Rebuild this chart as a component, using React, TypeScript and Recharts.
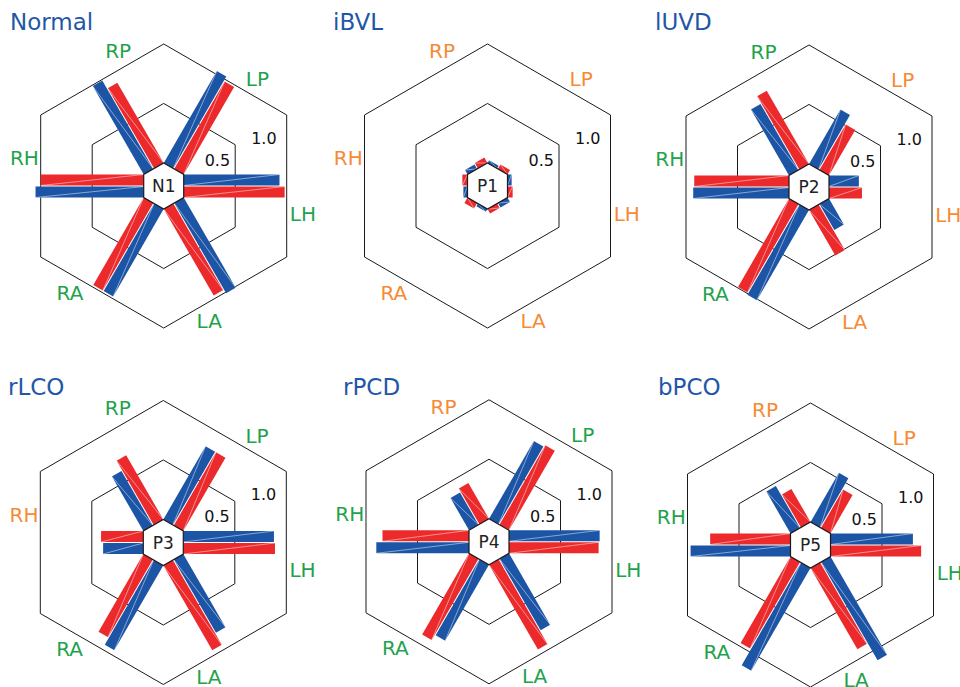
import { PolarAngleAxis, PolarRadiusAxis, Radar, RadarChart } from 'recharts'

// axis order runs clockwise, starting at the upper-left spoke
const AXES = ['RP', 'LP', 'LH', 'LA', 'RA', 'RH']
const RADIUS_TICKS = [0.5, 1]
const GRID_LEVELS = [0.5, 1]

const NORMAL_RED = [0.9, 0.98, 0.98, 0.97, 0.98, 1.0]
const NORMAL_BLUE = [0.99, 1.03, 0.93, 1.01, 0.98, 1.05]
const IBVL_RED = [0.06, 0.05, 0.05, 0.05, 0.06, 0.05]
const IBVL_BLUE = [0.05, 0.03, 0.04, 0.05, 0.03, 0.04]
const LUVD_RED = [0.82, 0.51, 0.32, 0.51, 0.99, 0.92]
const LUVD_BLUE = [0.74, 0.61, 0.29, 0.29, 1.01, 0.93]
const RLCO_RED = [0.72, 0.82, 0.89, 0.95, 0.87, 0.41]
const RLCO_BLUE = [0.61, 0.82, 0.88, 0.82, 0.95, 0.39]
const RPCD_RED = [0.4, 0.89, 0.87, 0.95, 0.91, 0.84]
const RPCD_BLUE = [0.36, 0.87, 0.88, 0.8, 0.85, 0.9]
const BPCO_RED = [0.37, 0.43, 0.88, 0.91, 0.97, 0.78]
const BPCO_BLUE = [0.47, 0.55, 0.8, 1.1, 1.15, 0.97]

// g = green label, o = orange label
const NORMAL_COLORS = ['g', 'g', 'g', 'g', 'g', 'g']
const IBVL_COLORS = ['o', 'o', 'o', 'o', 'o', 'o']
const LUVD_COLORS = ['g', 'o', 'o', 'o', 'g', 'g']
const RLCO_COLORS = ['g', 'g', 'g', 'g', 'g', 'o']
const RPCD_COLORS = ['o', 'g', 'g', 'g', 'g', 'g']
const BPCO_COLORS = ['o', 'o', 'g', 'g', 'g', 'g']

const RED = '#ec2a2c'
const BLUE = '#1d55a6'
const GREEN = '#1fa24c'
const ORANGE = '#f68a35'
const TITLE_BLUE = '#1f57a8'
const FONT = '"DejaVu Sans", Verdana, sans-serif'

const INNER = 20
const OUTER = 20 + 103 * 1.2
const BAR_W = 11
const BAR_GAP = 0.5

const PANELS = [
  { title: 'Normal', center: 'N1', red: NORMAL_RED, blue: NORMAL_BLUE, colors: NORMAL_COLORS, left: 0, top: 0, cx: 163.7, cy: 186, tx: 10, ty: 30 },
  { title: 'iBVL', center: 'P1', red: IBVL_RED, blue: IBVL_BLUE, colors: IBVL_COLORS, left: 320, top: 0, cx: 167.5, cy: 186, tx: 333, ty: 30 },
  { title: 'lUVD', center: 'P2', red: LUVD_RED, blue: LUVD_BLUE, colors: LUVD_COLORS, left: 640, top: 0, cx: 169, cy: 187, tx: 655, ty: 30 },
  { title: 'rLCO', center: 'P3', red: RLCO_RED, blue: RLCO_BLUE, colors: RLCO_COLORS, left: 0, top: 345, cx: 163.3, cy: 197.5, tx: 8, ty: 395 },
  { title: 'rPCD', center: 'P4', red: RPCD_RED, blue: RPCD_BLUE, colors: RPCD_COLORS, left: 320, top: 345, cx: 169, cy: 196.8, tx: 343, ty: 395 },
  { title: 'bPCO', center: 'P5', red: BPCO_RED, blue: BPCO_BLUE, colors: BPCO_COLORS, left: 640, top: 345, cx: 170.5, cy: 200, tx: 658, ty: 395 },
]

type Pt = { x: number; y: number; cx: number; cy: number; radius: number }

// hexagon whose edge midpoints are the radar points
function hexPath(points: Pt[]) {
  const n = points.length
  const verts = points.map((p, i) => {
    const q = points[(i + 1) % n]
    return [p.cx + (p.x - p.cx + q.x - q.cx) / 1.5, p.cy + (p.y - p.cy + q.y - q.cy) / 1.5]
  })
  return 'M' + verts.map((v) => `${v[0]},${v[1]}`).join('L') + 'Z'
}

function GridHex(props: any) {
  return <path d={hexPath(props.points)} fill="none" stroke="#1a1a1a" strokeWidth={1} />
}

function CenterHex(props: any) {
  const p = props.points[0]
  return (
    <g>
      <path d={hexPath(props.points)} fill="#fff" stroke="#1a1a1a" strokeWidth={1.2} />
      <text x={p.cx} y={p.cy} textAnchor="middle" dominantBaseline="central" fontFamily={FONT} fontSize={17} fill="#222">
        {props.centerText}
      </text>
    </g>
  )
}

// blue sits on the counter-clockwise side of each spoke, red on the clockwise side
function Bars(props: any) {
  const side = props.side as number
  return (
    <g>
      {props.points.map((p: Pt, i: number) => {
        const dx = p.x - p.cx
        const dy = p.y - p.cy
        const len = Math.hypot(dx, dy) || 1
        const ux = dx / len
        const uy = dy / len
        const nx = uy * side
        const ny = -ux * side
        const sx = p.cx + ux * INNER
        const sy = p.cy + uy * INNER
        const a1 = BAR_GAP
        const a2 = BAR_GAP + BAR_W
        const c = [
          [sx + nx * a1, sy + ny * a1],
          [p.x + nx * a1, p.y + ny * a1],
          [p.x + nx * a2, p.y + ny * a2],
          [sx + nx * a2, sy + ny * a2],
        ]
        const seam = side > 0 ? [c[0], c[2]] : [c[3], c[1]]
        return (
          <g key={i}>
            <polygon points={c.map((v) => v.join(',')).join(' ')} fill={props.color} />
            <line
              x1={seam[0][0]}
              y1={seam[0][1]}
              x2={seam[1][0]}
              y2={seam[1][1]}
              stroke="#fff"
              strokeWidth={0.6}
              strokeOpacity={0.8}
            />
          </g>
        )
      })}
    </g>
  )
}

function Panel({ cfg }: { cfg: (typeof PANELS)[number] }) {
  const data = AXES.map((axis, i) => ({
    axis,
    red: cfg.red[i],
    blue: cfg.blue[i],
    zero: 0,
    g0: GRID_LEVELS[0],
    g1: GRID_LEVELS[1],
  }))

  const angleTick = (props: any) => {
    const idx = AXES.indexOf(props.payload.value)
    const a = ((props.payload.coordinate - 11.3) * Math.PI) / 180
    const r = 142
    return (
      <text
        x={cfg.cx + r * Math.cos(a)}
        y={cfg.cy - r * Math.sin(a)}
        textAnchor="middle"
        dominantBaseline="central"
        fontFamily={FONT}
        fontSize={20}
        fill={cfg.colors[idx] === 'g' ? GREEN : ORANGE}
      >
        {props.payload.value}
      </text>
    )
  }

  const radiusTick = (props: any) => {
    const dx = props.x - cfg.cx
    const dy = props.y - cfg.cy
    const len = Math.hypot(dx, dy) || 1
    return (
      <text
        x={props.x - (dx / len) * 12}
        y={props.y - (dy / len) * 12}
        textAnchor="middle"
        dominantBaseline="central"
        fontFamily={FONT}
        fontSize={16}
        fill="#111"
      >
        {Number(props.payload.value).toFixed(1)}
      </text>
    )
  }

  return (
    <div style={{ position: 'absolute', left: cfg.left, top: cfg.top, width: 320, height: 343 }}>
      <RadarChart
        width={320}
        height={343}
        data={data}
        cx={cfg.cx}
        cy={cfg.cy}
        innerRadius={INNER}
        outerRadius={OUTER}
        startAngle={120}
        endAngle={-240}
        margin={{ top: 0, right: 0, bottom: 0, left: 0 }}
        style={{ overflow: 'visible' }}
      >
        <PolarAngleAxis dataKey="axis" axisLine={false} tickLine={false} tick={angleTick} />
        <PolarRadiusAxis
          domain={[0, 1.2]}
          ticks={RADIUS_TICKS}
          angle={25.5}
          axisLine={false}
          tickLine={false}
          tick={radiusTick}
        />
        <Radar dataKey="g0" isAnimationActive={false} shape={<GridHex />} />
        <Radar dataKey="g1" isAnimationActive={false} shape={<GridHex />} />
        <Radar dataKey="red" isAnimationActive={false} shape={<Bars side={-1} color={RED} />} />
        <Radar dataKey="blue" isAnimationActive={false} shape={<Bars side={1} color={BLUE} />} />
        <Radar dataKey="zero" isAnimationActive={false} shape={<CenterHex centerText={cfg.center} />} />
      </RadarChart>
    </div>
  )
}

export default function App() {
  return (
    <div style={{ position: 'absolute', left: 0, top: 0, width: 960, height: 687, background: '#fff', overflow: 'hidden' }}>
      {PANELS.map((cfg) => (
        <Panel key={cfg.title} cfg={cfg} />
      ))}
      <svg width={960} height={687} style={{ position: 'absolute', left: 0, top: 0, pointerEvents: 'none' }}>
        {PANELS.map((cfg) => (
          <text key={cfg.title} x={cfg.tx} y={cfg.ty} fontFamily={FONT} fontSize={23} fill={TITLE_BLUE}>
            {cfg.title}
          </text>
        ))}
      </svg>
    </div>
  )
}
